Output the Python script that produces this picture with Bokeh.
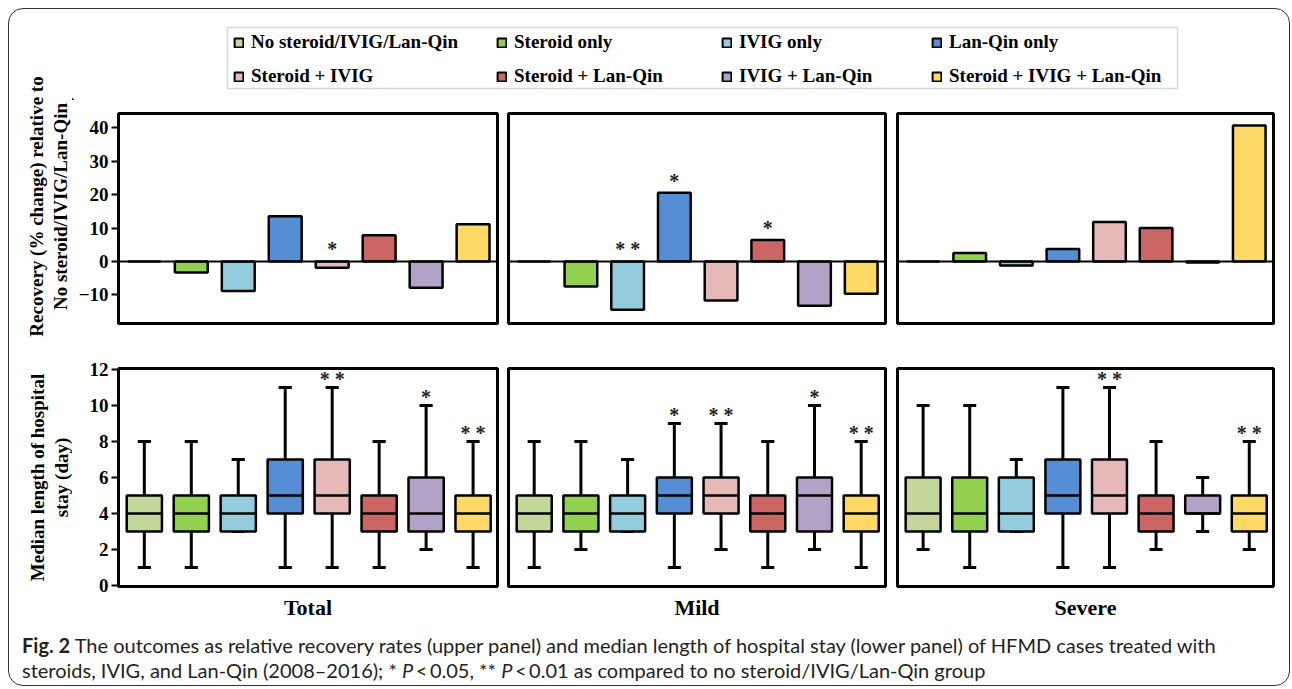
import math
from bokeh.plotting import figure
from bokeh.layouts import row, column
from bokeh.models import (Range1d, FixedTicker, Span, ColumnDataSource, Legend, LegendItem,
                          BoxAnnotation, Div)
from bokeh.embed import file_html
from bokeh.resources import INLINE
from bokeh.core.properties import value

# ---------------- data ----------------
groups = ["No steroid/IVIG/Lan-Qin", "Steroid only", "IVIG only", "Lan-Qin only",
          "Steroid + IVIG", "Steroid + Lan-Qin", "IVIG + Lan-Qin", "Steroid + IVIG + Lan-Qin"]
colors = ["#c4d79b", "#92d050", "#93cddd", "#558ed5",
          "#e6b9b8", "#cc6664", "#b3a2c7", "#ffd966"]
panels = ["Total", "Mild", "Severe"]

# upper panel: recovery (% change) relative to no steroid/IVIG/Lan-Qin
recovery_total = [0, -3.3, -8.9, 13.5, -1.9, 7.8, -7.9, 11.1]
recovery_mild = [0, -7.5, -14.5, 20.6, -11.7, 6.4, -13.3, -9.7]
recovery_severe = [0, 2.5, -1.2, 3.7, 11.8, 10.0, -0.3, 40.7]
recovery_sig_total = ["", "", "", "", "*", "", "", ""]
recovery_sig_mild = ["", "", "**", "*", "", "*", "", ""]
recovery_sig_severe = ["", "", "", "", "", "", "", ""]
recovery_ticks = [-10, 0, 10, 20, 30, 40]

# lower panel: length of hospital stay (day)
stay_low_total = [1, 1, 3, 1, 1, 1, 2, 1]
stay_q1_total = [3, 3, 3, 4, 4, 3, 3, 3]
stay_med_total = [4, 4, 4, 5, 5, 4, 4, 4]
stay_q3_total = [5, 5, 5, 7, 7, 5, 6, 5]
stay_high_total = [8, 8, 7, 11, 11, 8, 10, 8]
stay_sig_total = ["", "", "", "", "**", "", "*", "**"]

stay_low_mild = [1, 2, 3, 1, 2, 1, 2, 1]
stay_q1_mild = [3, 3, 3, 4, 4, 3, 3, 3]
stay_med_mild = [4, 4, 4, 5, 5, 4, 5, 4]
stay_q3_mild = [5, 5, 5, 6, 6, 5, 6, 5]
stay_high_mild = [8, 8, 7, 9, 9, 8, 10, 8]
stay_sig_mild = ["", "", "", "*", "**", "", "*", "**"]

stay_low_severe = [2, 1, 3, 1, 1, 2, 3, 2]
stay_q1_severe = [3, 3, 3, 4, 4, 3, 4, 3]
stay_med_severe = [4, 4, 4, 5, 5, 4, 4, 4]
stay_q3_severe = [6, 6, 6, 7, 7, 5, 5, 5]
stay_high_severe = [10, 10, 7, 11, 11, 8, 6, 8]
stay_sig_severe = ["", "", "", "", "**", "", "", "**"]
stay_ticks = [0, 2, 4, 6, 8, 10, 12]

recovery = [recovery_total, recovery_mild, recovery_severe]
recovery_sig = [recovery_sig_total, recovery_sig_mild, recovery_sig_severe]
stay = [
    (stay_low_total, stay_q1_total, stay_med_total, stay_q3_total, stay_high_total, stay_sig_total),
    (stay_low_mild, stay_q1_mild, stay_med_mild, stay_q3_mild, stay_high_mild, stay_sig_mild),
    (stay_low_severe, stay_q1_severe, stay_med_severe, stay_q3_severe, stay_high_severe, stay_sig_severe),
]

# ---------------- styling ----------------
SERIF = "Liberation Serif"
LABEL_W = 72
col_widths = [430, 389, 399]
col_borders = [(46, 5), (6, 6), (6, 17)]
HEAD_H, TOP_H, BOT_H, CAP_H = 100, 245, 285, 51
BAR_W, BOX_W, CAP_HALF = 0.7, 0.75, 0.14
X_RANGE = (-0.55, 7.52)


def spaced(s):
    return " ".join(list(s))


def style_frame(p):
    p.outline_line_color = "black"
    p.outline_line_width = 3
    p.xgrid.visible = False
    p.ygrid.visible = False
    p.background_fill_color = "white"
    p.border_fill_color = "white"


def style_yaxis(ax, ticks):
    ax.ticker = FixedTicker(ticks=ticks)
    ax.minor_tick_line_color = None
    ax.major_tick_in = 0
    ax.major_tick_out = 7
    ax.major_tick_line_width = 2
    ax.axis_line_width = 3
    ax.major_label_text_font = SERIF
    ax.major_label_text_font_style = "bold"
    ax.major_label_text_font_size = "19px"
    ax.major_label_text_color = "black"
    ax.major_label_standoff = 3


xs = list(range(len(groups)))

top_figs = []
bot_figs = []
for k, name in enumerate(panels):
    bl, br = col_borders[k]
    # ---------- upper: bar chart ----------
    pt = figure(width=col_widths[k], height=TOP_H, output_backend="svg", toolbar_location=None,
                x_range=Range1d(*X_RANGE), y_range=Range1d(-18.6, 44.3),
                x_axis_location=None, y_axis_location="left" if k == 0 else None,
                min_border_left=bl, min_border_right=br, min_border_top=13, min_border_bottom=22)
    style_frame(pt)
    if k == 0:
        style_yaxis(pt.yaxis[0], recovery_ticks)
    vals = recovery[k]
    src = ColumnDataSource(dict(x=xs, top=vals, color=colors,
                                sig=[spaced(s) for s in recovery_sig[k]],
                                sy=[max(v, 0) + 3.6 for v in vals]))
    pt.vbar(x="x", top="top", bottom=0, width=BAR_W, fill_color="color",
            line_color="black", line_width=2.5, source=src)
    pt.add_layout(Span(location=0, dimension="width", line_color="black", line_width=2))
    pt.text(x="x", y="sy", text="sig", source=src, text_align="center", text_baseline="middle",
            text_font=value(SERIF), text_font_style="bold", text_font_size="20px", text_color="#222")
    top_figs.append(pt)

    # ---------- lower: box plot ----------
    low, q1, med, q3, high, sig = stay[k]
    pb = figure(width=col_widths[k], height=BOT_H, output_backend="svg", toolbar_location=None,
                x_range=Range1d(*X_RANGE), y_range=Range1d(-0.05, 12.05),
                y_axis_location="left" if k == 0 else None,
                min_border_left=bl, min_border_right=br, min_border_top=23, min_border_bottom=44)
    style_frame(pb)
    if k == 0:
        style_yaxis(pb.yaxis[0], stay_ticks)
    xa = pb.xaxis[0]
    xa.ticker = FixedTicker(ticks=[])
    xa.axis_line_color = None
    xa.major_tick_line_color = None
    xa.minor_tick_line_color = None
    xa.major_label_text_font_size = "0px"
    xa.axis_label = name
    xa.axis_label_text_font = SERIF
    xa.axis_label_text_font_style = "bold"
    xa.axis_label_text_font_size = "22px"
    xa.axis_label_text_color = "black"
    xa.axis_label_standoff = 8
    bsrc = ColumnDataSource(dict(
        x=xs, low=low, q1=q1, med=med, q3=q3, high=high, color=colors,
        sig=[spaced(s) for s in sig],
        xl=[x - CAP_HALF for x in xs], xr=[x + CAP_HALF for x in xs],
        ml=[x - BOX_W / 2 for x in xs], mr=[x + BOX_W / 2 for x in xs],
        sy=[h + 0.45 for h in high]))
    pb.segment(x0="x", y0="q3", x1="x", y1="high", line_color="black", line_width=3, source=bsrc)
    pb.segment(x0="x", y0="q1", x1="x", y1="low", line_color="black", line_width=3, source=bsrc)
    pb.segment(x0="xl", y0="high", x1="xr", y1="high", line_color="black", line_width=3, source=bsrc)
    pb.segment(x0="xl", y0="low", x1="xr", y1="low", line_color="black", line_width=3, source=bsrc)
    pb.vbar(x="x", bottom="q1", top="q3", width=BOX_W, fill_color="color", line_color="black",
            line_width=2.5, source=bsrc)
    pb.segment(x0="ml", y0="med", x1="mr", y1="med", line_color="black", line_width=2.5, source=bsrc)
    pb.text(x="x", y="sy", text="sig", source=bsrc, text_align="center", text_baseline="middle",
            text_font=value(SERIF), text_font_style="bold", text_font_size="20px", text_color="#222")
    bot_figs.append(pb)

# ---------------- header with legend ----------------
HEAD_W = sum(col_widths)
header = figure(width=HEAD_W, height=HEAD_H, output_backend="svg", toolbar_location=None,
                x_range=Range1d(0, HEAD_W), y_range=Range1d(0, HEAD_H),
                x_axis_location=None, y_axis_location=None, min_border=0)
header.outline_line_color = None
header.xgrid.visible = False
header.ygrid.visible = False
dummies = []
for g, c in zip(groups, colors):
    r = header.vbar(x=[-1000], top=[1], width=1, fill_color=c, line_color="black", line_width=2)
    dummies.append(r)
legend_x = [161, 424, 649, 859]
for j in range(4):
    items = [LegendItem(label=groups[j], renderers=[dummies[j]]),
             LegendItem(label=groups[j + 4], renderers=[dummies[j + 4]])]
    leg = Legend(items=items, location=(legend_x[j], 13), orientation="vertical",
                 padding=0, margin=0, spacing=12, glyph_width=11, glyph_height=11,
                 label_standoff=7, label_height=20,
                 label_text_font=SERIF, label_text_font_style="bold", label_text_font_size="19px",
                 label_text_color="black", border_line_color=None, background_fill_alpha=0)
    header.add_layout(leg)
header.add_layout(BoxAnnotation(left=155, right=1105, bottom=12, top=73, fill_alpha=0,
                                line_color="#808080", line_width=1.5))

# ---------------- y axis titles ----------------
label_fig = figure(width=LABEL_W, height=HEAD_H + TOP_H + BOT_H, output_backend="svg",
                   toolbar_location=None,
                   x_range=Range1d(0, LABEL_W), y_range=Range1d(0, HEAD_H + TOP_H + BOT_H),
                   x_axis_location=None, y_axis_location=None, min_border=0)
label_fig.outline_line_color = None
label_fig.xgrid.visible = False
label_fig.ygrid.visible = False
ysrc = ColumnDataSource(dict(
    x=[48, 49], y=[424, 153],
    text=["Recovery (% change) relative to\nNo steroid/IVIG/Lan-Qin", "Median length of hospital\nstay (day)"]))
label_fig.text(x="x", y="y", text="text", source=ysrc, angle=math.pi / 2, text_align="center",
               text_baseline="middle", text_font=value(SERIF), text_font_style="bold",
               text_font_size="19px", text_line_height=1.1, text_color="black")

caption = Div(width=LABEL_W + HEAD_W, height=CAP_H, text=(
    "<div style=\"position:fixed;left:8px;top:8px;width:1282px;height:678px;box-sizing:border-box;"
    "border:1.6px solid #333;border-radius:15px;pointer-events:none;z-index:10\"></div>"
    "<div style=\"font-family:'Lato';font-size:20px;line-height:25px;color:#231f20;"
    "padding:0 0 0 17px;margin-top:-2px;white-space:nowrap\">"
    "<b>Fig. 2</b> The outcomes as relative recovery rates (upper panel) and median length of hospital "
    "stay (lower panel) of HFMD cases treated with<br>steroids, IVIG, and Lan-Qin (2008&ndash;2016); "
    "* <i>P</i>&thinsp;&lt;&thinsp;0.05, ** <i>P</i>&thinsp;&lt;&thinsp;0.01 as compared to no "
    "steroid/IVIG/Lan-Qin group</div>"))

body = row(label_fig, column(header, row(*top_figs), row(*bot_figs)))
page = column(body, caption)

open("out.html", "w").write(file_html(page, INLINE))
